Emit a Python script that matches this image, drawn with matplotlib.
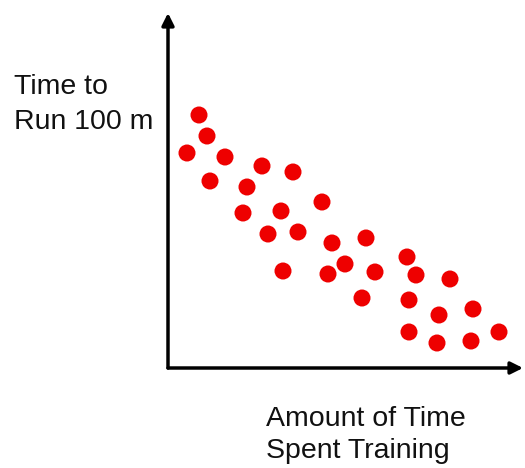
import matplotlib.pyplot as plt

# training amount (x) vs. time to run 100 m (y), arbitrary units
training = [31, 39, 19, 57, 42, 94, 125, 79, 75, 113, 154, 100, 130, 164, 198,
            177, 115, 160, 207, 239, 248, 282, 194, 241, 305, 271, 241, 331, 269, 303]
run_time = [253, 232, 215, 211, 187, 202, 196, 181, 155, 157, 166, 134, 136, 125, 130,
            104, 97, 94, 96, 111, 93, 89, 70, 68, 59, 53, 36, 36, 25, 27]

fig = plt.figure(figsize=(5.25, 4.68), dpi=100)
ax = fig.add_axes([168 / 525, 100 / 468, 355 / 525, 355 / 468])
ax.set_xlim(0, 355)
ax.set_ylim(0, 355)
ax.axis("off")

ax.scatter(training, run_time, s=150, color="#ee0000", edgecolors="none", zorder=3)

# axes drawn as arrows
arrow = dict(arrowstyle="-|>", color="black", lw=2.5, mutation_scale=18,
             shrinkA=0, shrinkB=0)
ax.annotate("", xy=(0, 1.0), xytext=(0, 0), xycoords="axes fraction", arrowprops=arrow)
ax.annotate("", xy=(1.0, 0), xytext=(0, 0), xycoords="axes fraction", arrowprops=arrow)

font = dict(family=["Liberation Sans", "DejaVu Sans"], fontsize=20.5, color="#111111")
fig.text(14 / 525, 1 - 74 / 468, "Time to\nRun 100 m", ha="left", va="top",
         linespacing=1.45, **font)
fig.text(266 / 525, 1 - 406 / 468, "Amount of Time\nSpent Training", ha="left", va="top",
         linespacing=1.3, **font)

fig.savefig("out.png", dpi=100)
